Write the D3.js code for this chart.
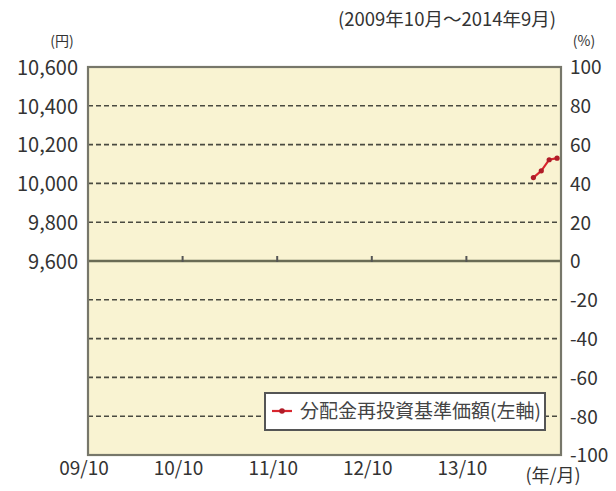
<!DOCTYPE html>
<html>
<head>
<meta charset="utf-8">
<script src="https://cdn.jsdelivr.net/npm/d3@7"></script>
<style>
  body { margin: 0; background: #fff; }
  text { font-family: "Noto Sans CJK JP", "Noto Sans", sans-serif; fill: #333; }
</style>
</head>
<body>
<div id="chart"></div>
<script>

// months from 2009/10 to 2014/09
var months = [];
for (var y = 2009, m = 10; months.length < 60; m++) {
	if (m > 12) { m = 1; y++; }
	months.push(y + "/" + (m < 10 ? "0" + m : m));
}

var xLabels = ["09/10", "10/10", "11/10", "12/10", "13/10", "(年/月)"];
var xLabelMonths = [0, 12, 24, 36, 48, 60];

var leftTicks = [10600, 10400, 10200, 10000, 9800, 9600];
var rightTicks = [100, 80, 60, 40, 20, 0, -20, -40, -60, -80, -100];

// 分配金再投資基準価額 (left axis)
var navMonths = ["2014/06", "2014/07", "2014/08", "2014/09"];
var navValues = [10030, 10065, 10122, 10130];

var title = "(2009年10月～2014年9月)";
var legendLabel = "分配金再投資基準価額(左軸)";

var margin = {top: 67, right: 55, bottom: 36, left: 88}
  , width = 616 - margin.left - margin.right
  , height = 491 - margin.top - margin.bottom;

var svg = d3.select("#chart").append("svg")
	.attr("width", 616)
	.attr("height", 491);

var g = svg.append("g")
	.attr("transform", "translate(" + margin.left + "," + margin.top + ")");

var xScale = d3.scaleLinear()
	.domain([0, months.length])
	.range([0, width]);

var yLeft = d3.scaleLinear()
	.domain([8600, 10600])
	.range([height, 0]);

var yRight = d3.scaleLinear()
	.domain([-100, 100])
	.range([height, 0]);

// plot background
g.append("rect")
	.attr("width", width)
	.attr("height", height)
	.style("fill", "#f9f3d2");

// dashed grid
g.selectAll(".grid")
	.data(rightTicks.filter(function(d) { return d != 0 && d != 100 && d != -100; }))
	.enter().append("line")
	.attr("x1", 0)
	.attr("x2", width)
	.attr("y1", function(d) { return yRight(d); })
	.attr("y2", function(d) { return yRight(d); })
	.attr("stroke", "#4a4a40")
	.attr("stroke-width", 1.6)
	.attr("stroke-dasharray", "5,3");

// zero line + year ticks
g.append("line")
	.attr("x1", 0)
	.attr("x2", width)
	.attr("y1", yRight(0))
	.attr("y2", yRight(0))
	.attr("stroke", "#6a6b55")
	.attr("stroke-width", 2.4);

g.selectAll(".yt")
	.data(xLabelMonths.slice(1, 5))
	.enter().append("line")
	.attr("x1", function(d) { return xScale(d); })
	.attr("x2", function(d) { return xScale(d); })
	.attr("y1", yRight(0) - 5)
	.attr("y2", yRight(0) + 1)
	.attr("stroke", "#555")
	.attr("stroke-width", 2);

// border
g.append("rect")
	.attr("width", width)
	.attr("height", height)
	.style("fill", "none")
	.attr("stroke", "#77776a")
	.attr("stroke-width", 2.2);

// left axis
var leftAxis = g.append("g")
	.call(d3.axisLeft(yLeft).tickValues(leftTicks).tickSize(0).tickPadding(10)
		.tickFormat(d3.format(",")));
leftAxis.select(".domain").remove();
leftAxis.selectAll("text").style("font-size", "20px").attr("dy", "0.36em").style("fill", "#333");

// right axis
var rightAxis = g.append("g")
	.attr("transform", "translate(" + width + ",0)")
	.call(d3.axisRight(yRight).tickValues(rightTicks).tickSize(0).tickPadding(9)
		.tickFormat(function(d) { return d < 0 ? "-" + Math.abs(d) : d; }));
rightAxis.select(".domain").remove();
rightAxis.selectAll("text").style("font-size", "19px").attr("dy", "0.36em").style("fill", "#333");

// x labels
g.selectAll(".xl")
	.data(xLabels)
	.enter().append("text")
	.attr("x", function(d, i) { return xScale(xLabelMonths[i]) - (i == 5 ? 8 : 4); })
	.attr("y", function(d, i) { return height + (i == 5 ? 27 : 20); })
	.attr("text-anchor", "middle")
	.style("font-size", function(d, i) { return i == 5 ? "18px" : "19px"; })
	.text(function(d) { return d; });

// unit labels
svg.append("text")
	.attr("x", 62)
	.attr("y", 46)
	.attr("text-anchor", "middle")
	.style("font-size", "14px")
	.text("(円)");

svg.append("text")
	.attr("x", 584)
	.attr("y", 46)
	.attr("text-anchor", "middle")
	.style("font-size", "14px")
	.text("(%)");

svg.append("text")
	.attr("x", 556)
	.attr("y", 26)
	.attr("text-anchor", "end")
	.style("font-size", "18.5px")
	.text(title);

// line
var line = d3.line()
	.x(function(d, i) { return xScale(months.indexOf(navMonths[i]) + 0.5); })
	.y(function(d) { return yLeft(d); });

g.append("path")
	.datum(navValues)
	.attr("d", line)
	.attr("fill", "none")
	.attr("stroke", "#d8262e")
	.attr("stroke-width", 2.2);

g.selectAll(".pt")
	.data(navValues)
	.enter().append("circle")
	.attr("cx", function(d, i) { return xScale(months.indexOf(navMonths[i]) + 0.5); })
	.attr("cy", function(d) { return yLeft(d); })
	.attr("r", 2.6)
	.attr("fill", "#b01c28");

// legend
var legend = g.append("g")
	.attr("transform", "translate(" + (265 - margin.left) + "," + (393 - margin.top) + ")");

legend.append("rect")
	.attr("width", 280)
	.attr("height", 37)
	.style("fill", "#fff")
	.attr("stroke", "#555")
	.attr("stroke-width", 2);

legend.append("line")
	.attr("x1", 7)
	.attr("x2", 27)
	.attr("y1", 18)
	.attr("y2", 18)
	.attr("stroke", "#d8262e")
	.attr("stroke-width", 2.2);

legend.append("circle")
	.attr("cx", 17)
	.attr("cy", 18)
	.attr("r", 2.8)
	.attr("fill", "#b01c28");

legend.append("text")
	.attr("x", 35)
	.attr("y", 18)
	.attr("dy", "0.36em")
	.style("font-size", "19px")
	.style("fill", "#444")
	.text(legendLabel);

</script>
</body>
</html>
